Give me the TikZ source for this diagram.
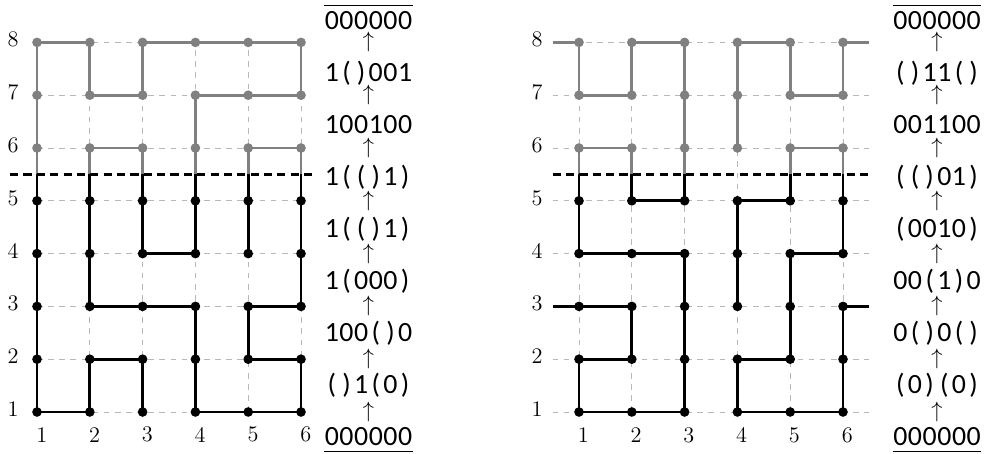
\documentclass[tikz,border=0pt]{standalone}
\usepackage{fontspec}
\newfontfamily\codefont{Carlito}
% set a word one character per fixed-width cell
\def\seqloop#1{\ifx#1\relax\else\makebox[7.9pt][c]{#1}\expandafter\seqloop\fi}
\newcommand\seqword[1]{\seqloop#1\relax}

\tikzset{
  gridline/.style={black!28, line width=0.45pt, dash pattern=on 3pt off 3pt},
  upper/.style={black!50, line width=1.5pt},
  lower/.style={black, line width=1.5pt},
  cutline/.style={black, line width=1.3pt, dash pattern=on 4.4pt off 2.8pt},
  word/.style={font=\codefont\fontsize{15}{15}\selectfont, inner sep=0pt,
               text height=9.5pt, text depth=0pt},
  upmark/.style={font=\fontsize{12}{14}\selectfont, inner sep=0pt},
  axislabel/.style={font=\large, inner sep=0pt},
  rule/.style={black, line width=0.55pt},
}
\newcommand\gpoints{%
  \foreach \i in {1,...,6}{
    \foreach \j in {1,...,5}{\fill[black] (\i,\j) circle (2.6pt);}
    \foreach \j in {6,7,8}{\fill[black!50] (\i,\j) circle (2.6pt);}
  }}

\begin{document}
\begin{tikzpicture}
\useasboundingbox (0.299,0.205) rectangle (19.011,8.803);

% ---------------- left lattice ----------------
\begin{scope}
  \foreach \j in {1,...,8}{\draw[gridline] (1,\j) -- (6,\j);}
  \foreach \i in {1,...,6}{\draw[gridline] (\i,1) -- (\i,8);}
  % upper part
  \draw[upper] (2,5.5) -- (2,6) -- (3,6) -- (3,5.5);
  \draw[upper] (5,5.5) -- (5,6) -- (6,6) -- (6,5.5);
  \draw[upper] (1,5.5) -- (1,8) -- (2,8) -- (2,7) -- (3,7) -- (3,8) -- (6,8)
               -- (6,7) -- (4,7) -- (4,5.5);
  % lower part
  \draw[lower] (2,5.5) -- (2,3) -- (4,3) -- (4,1) -- (6,1) -- (6,2) -- (5,2)
               -- (5,3) -- (6,3) -- (6,5.5);
  \draw[lower] (1,5.5) -- (1,1) -- (2,1) -- (2,2) -- (3,2) -- (3,1);
  \draw[lower] (3,5.5) -- (3,4) -- (4,4) -- (4,5.5);
  \draw[lower] (5,5.5) -- (5,4);
  \gpoints
  \draw[cutline] (0.49,5.5) -- (6.27,5.5);
  % axis labels
  \foreach \j in {1,...,8}{\node[axislabel] (Lrow\j) at (0.545,\j+0.055) {\j};}
  \foreach \i in {1,...,6}{\node[axislabel] (Lcol\i) at (\i+0.09,0.57) {\i};}
  % words
  \node[word] (L8) at (7.278,8.42) {\seqword{000000}};
  \node[word] (L7) at (7.278,7.434) {\seqword{1()001}};
  \node[word] (L6) at (7.278,6.448) {\seqword{100100}};
  \node[word] (L5) at (7.278,5.462) {\seqword{1(()1)}};
  \node[word] (L4) at (7.278,4.476) {\seqword{1(()1)}};
  \node[word] (L3) at (7.278,3.49) {\seqword{1(000)}};
  \node[word] (L2) at (7.278,2.504) {\seqword{100()0}};
  \node[word] (L1) at (7.278,1.518) {\seqword{()1(0)}};
  \node[word] (L0) at (7.278,0.53) {\seqword{000000}};
  \foreach \j in {1,...,8}{\node[upmark] (Lup\j) at (7.278,\j) {$\uparrow$};}
  \draw[rule] ([yshift=3.2pt]L8.north west) -- ([yshift=3.2pt]L8.north east);
  \draw[rule] ([yshift=-3.2pt]L0.south west) -- ([yshift=-3.2pt]L0.south east);
\end{scope}

% ---------------- right lattice ----------------
\begin{scope}[xshift=10.265cm]
  \foreach \j in {1,...,8}{\draw[gridline] (0.5,\j) -- (6.5,\j);}
  \foreach \i in {1,...,6}{\draw[gridline] (\i,1) -- (\i,8);}
  % upper part
  \draw[upper] (1,5.5) -- (1,6) -- (2,6) -- (2,5.5);
  \draw[upper] (5,5.5) -- (5,6) -- (6,6) -- (6,5.5);
  \draw[upper] (0.5,8) -- (1,8) -- (1,7) -- (2,7) -- (2,8) -- (3,8) -- (3,5.5);
  \draw[upper] (4,6) -- (4,8) -- (5,8) -- (5,7) -- (6,7) -- (6,8) -- (6.5,8);
  % lower part
  \draw[lower] (1,5.5) -- (1,4) -- (3,4) -- (3,1) -- (1,1) -- (1,2) -- (2,2)
               -- (2,3) -- (0.5,3);
  \draw[lower] (2,5.5) -- (2,5) -- (3,5) -- (3,5.5);
  \draw[lower] (5,5.5) -- (5,5) -- (4,5) -- (4,3);
  \draw[lower] (6,5.5) -- (6,4) -- (5,4) -- (5,2) -- (4,2) -- (4,1) -- (6,1)
               -- (6,3) -- (6.5,3);
  \gpoints
  \draw[cutline] (0.5,5.5) -- (6.5,5.5);
  % axis labels
  \foreach \j in {1,...,8}{\node[axislabel] (Rrow\j) at (0.205,\j+0.055) {\j};}
  \foreach \i in {1,...,6}{\node[axislabel] (Rcol\i) at (\i+0.08,0.56) {\i};}
  % words
  \node[word] (R8) at (7.781,8.42) {\seqword{000000}};
  \node[word] (R7) at (7.781,7.434) {\seqword{()11()}};
  \node[word] (R6) at (7.781,6.448) {\seqword{001100}};
  \node[word] (R5) at (7.781,5.462) {\seqword{(()01)}};
  \node[word] (R4) at (7.781,4.476) {\seqword{(0010)}};
  \node[word] (R3) at (7.781,3.49) {\seqword{00(1)0}};
  \node[word] (R2) at (7.781,2.504) {\seqword{0()0()}};
  \node[word] (R1) at (7.781,1.518) {\seqword{(0)(0)}};
  \node[word] (R0) at (7.781,0.53) {\seqword{000000}};
  \foreach \j in {1,...,8}{\node[upmark] (Rup\j) at (7.781,\j) {$\uparrow$};}
  \draw[rule] ([yshift=3.2pt]R8.north west) -- ([yshift=3.2pt]R8.north east);
  \draw[rule] ([yshift=-3.2pt]R0.south west) -- ([yshift=-3.2pt]R0.south east);
\end{scope}
\end{tikzpicture}
\end{document}
